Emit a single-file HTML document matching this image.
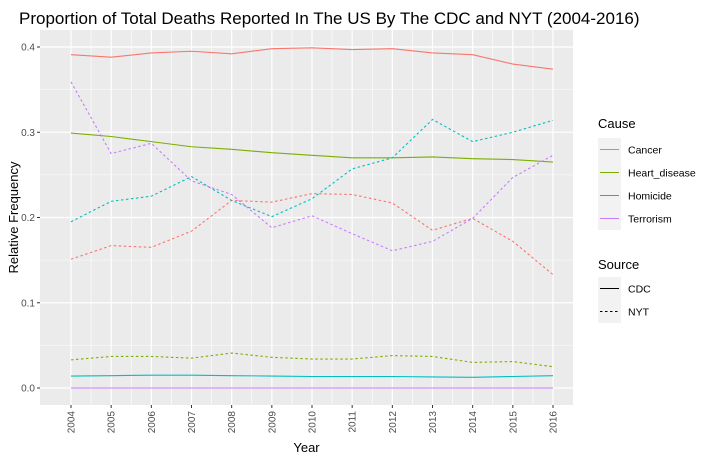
<!DOCTYPE html>
<html><head><meta charset="utf-8"><style>
body{margin:0;background:#fff;font-family:"Liberation Sans",sans-serif}
</style></head><body>
<svg id="c" width="720" height="463" xmlns="http://www.w3.org/2000/svg"></svg>
<script>
const years=[2004,2005,2006,2007,2008,2009,2010,2011,2012,2013,2014,2015,2016];
const cancerCDC=[0.391,0.388,0.393,0.395,0.392,0.398,0.399,0.397,0.398,0.393,0.391,0.380,0.374];
const heartCDC=[0.299,0.295,0.289,0.283,0.280,0.276,0.273,0.270,0.270,0.271,0.269,0.268,0.265];
const homicideCDC=[0.014,0.0145,0.015,0.015,0.0145,0.014,0.0135,0.0135,0.0135,0.013,0.0125,0.0135,0.0145];
const terrorCDC=[0,0,0,0,0,0,0,0,0,0,0,0,0];
const cancerNYT=[0.151,0.167,0.165,0.184,0.220,0.218,0.228,0.227,0.217,0.185,0.199,0.172,0.133];
const heartNYT=[0.033,0.037,0.037,0.035,0.041,0.036,0.034,0.034,0.038,0.037,0.030,0.031,0.025];
const homicideNYT=[0.195,0.219,0.225,0.248,0.220,0.201,0.222,0.257,0.270,0.315,0.289,0.300,0.314];
const terrorNYT=[0.359,0.275,0.287,0.243,0.227,0.188,0.202,0.181,0.161,0.172,0.199,0.247,0.273];
const yTicks=[0,0.1,0.2,0.3,0.4];
const yTickLabels=["0.0","0.1","0.2","0.3","0.4"];
const causes=["Cancer","Heart_disease","Homicide","Terrorism"];
const colors=["#F8766D","#7CAE00","#00BFC4","#C77CFF"];

const NS="http://www.w3.org/2000/svg";
const svg=document.getElementById('c');
const PL=40,PR=573,PT=30,PB=405;
const x=i=>71+(553-71)*(years[i]-years[0])/(years[years.length-1]-years[0]);
const y=v=>388-v*852.5;
function el(t,a,p){const e=document.createElementNS(NS,t);for(const k in a)e.setAttribute(k,a[k]);(p||svg).appendChild(e);return e;}
function txt(s,a){const e=el('text',a);e.textContent=s;return e;}

const bg=el('rect',{x:PL,y:PT,width:PR-PL,height:PB-PT,fill:'#EBEBEB'});


for(let i=0;i<yTicks.length-1;i++){const v=(yTicks[i]+yTicks[i+1])/2;el('line',{x1:PL,x2:PR,y1:y(v),y2:y(v),stroke:'#fff','stroke-width':0.6});}
for(let i=0;i<years.length-1;i++){const xm=(x(i)+x(i+1))/2;el('line',{x1:xm,x2:xm,y1:PT,y2:PB,stroke:'#fff','stroke-width':0.6});}
yTicks.forEach((v,i)=>{
  el('line',{x1:PL,x2:PR,y1:y(v),y2:y(v),stroke:'#fff','stroke-width':1.2});
  el('line',{x1:PL-3,x2:PL,y1:y(v),y2:y(v),stroke:'#333','stroke-width':1});
  const t=txt(yTickLabels[i],{x:PL-5,y:y(v)+3.5,'font-size':10,fill:'#4D4D4D','text-anchor':'end'});
  
  
});
years.forEach((yr,i)=>{
  el('line',{x1:x(i),x2:x(i),y1:PT,y2:PB,stroke:'#fff','stroke-width':1.2});
  el('line',{x1:x(i),x2:x(i),y1:PB,y2:PB+3,stroke:'#333','stroke-width':1});
  const t=txt(String(yr),{x:0,y:0,'font-size':10,fill:'#4D4D4D','text-anchor':'end',transform:`translate(${x(i)+3.5},${PB+6}) rotate(-90)`});
  
  
});
const series=[[cancerCDC,0,false],[heartCDC,1,false],[homicideCDC,2,false],[terrorCDC,3,false],[cancerNYT,0,true],[heartNYT,1,true],[homicideNYT,2,true],[terrorNYT,3,true]];
series.forEach(([d,c,dash])=>{
  const p=el('polyline',{points:d.map((v,i)=>x(i)+','+y(v)).join(' '),fill:'none',stroke:colors[c],'stroke-width':1.1});
  if(dash)p.setAttribute('stroke-dasharray','2.5,2.5');
  
  
});
const ti=txt('Proportion of Total Deaths Reported In The US By The CDC and NYT (2004-2016)',{x:19,y:24,'font-size':17,fill:'#000'});


const xt=txt('Year',{x:(PL+PR)/2,y:452,'font-size':13,'text-anchor':'middle'});


const yt=txt('Relative Frequency',{x:0,y:0,'font-size':13,'text-anchor':'middle',transform:`translate(18,${(PT+PB)/2}) rotate(-90)`});


const lc=txt('Cause',{x:598,y:128,'font-size':13});


causes.forEach((c,i)=>{
  const yy=138+i*23;
  el('rect',{x:598,y:yy,width:23,height:23,fill:'#F2F2F2'});
  el('line',{x1:600,x2:619,y1:yy+11.5,y2:yy+11.5,stroke:colors[i],'stroke-width':1.1});
  const t=txt(c,{x:628,y:yy+15.5,'font-size':10.5});
  
  
});
const ls=txt('Source',{x:598,y:269,'font-size':13});


['CDC','NYT'].forEach((s,i)=>{
  const yy=277+i*23;
  el('rect',{x:598,y:yy,width:23,height:23,fill:'#F2F2F2'});
  const l=el('line',{x1:600,x2:619,y1:yy+11.5,y2:yy+11.5,stroke:'#000','stroke-width':1.1});
  if(i)l.setAttribute('stroke-dasharray','2.5,2.5');
  const t=txt(s,{x:628,y:yy+15.5,'font-size':10.5});
  
  
});
</script>
</body></html>
